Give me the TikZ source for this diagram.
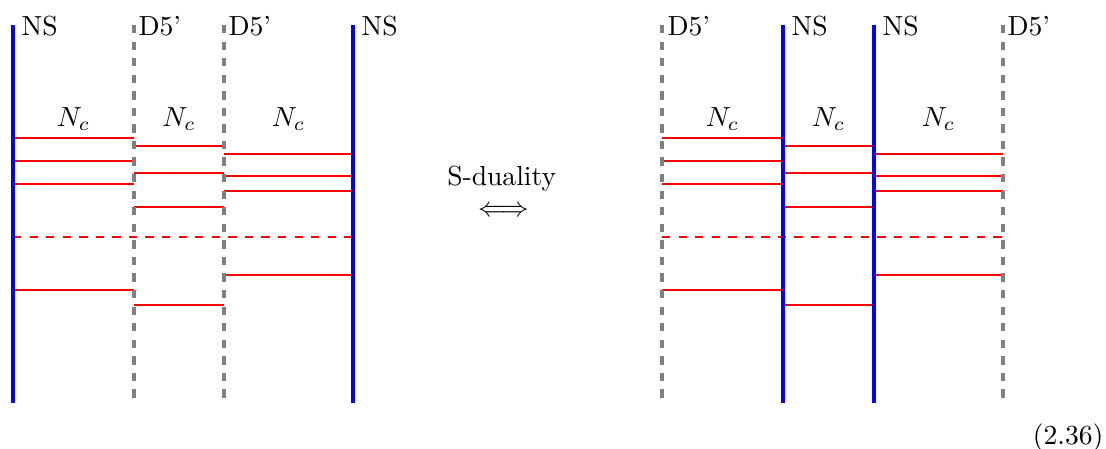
\documentclass[tikz,border=0pt]{standalone}
\begin{document}
\begin{tikzpicture}[x=0.3623pt,y=-0.3623pt,
  nsline/.style={blue,line width=1.45pt},
  dline/.style={gray,dashed,line width=1.2pt},
  cline/.style={red,line width=0.75pt},
  cdash/.style={red,dashed,line width=0.75pt},
  lab/.style={inner sep=0pt,anchor=base west},
  nclab/.style={inner sep=0pt,anchor=base}]
\useasboundingbox (0,0) rectangle (1106,448);
% ---------- left configuration ----------
\foreach \y in {138.3,161.3,183.7,290} \draw[cline] (13,\y) -- (134,\y);
\foreach \y in {146,172.7,206.7,304.7} \draw[cline] (134,\y) -- (224,\y);
\foreach \y in {153.7,176.3,191.3,274.7} \draw[cline] (224,\y) -- (353,\y);
\draw[cdash] (13,236.7) -- (353,236.7);
\draw[nsline] (13,25) coordinate (l1t) -- (13,403) coordinate (l1b);
\draw[dline] (134,25) coordinate (l2t) -- (134,403) coordinate (l2b);
\draw[dline] (224,25) coordinate (l3t) -- (224,403) coordinate (l3b);
\draw[nsline] (353,25) coordinate (l4t) -- (353,403) coordinate (l4b);
\node[lab] (ln1) at (21,35) {NS};
\node[lab] (ln2) at (138,35) {D5'};
\node[lab] (ln3) at (228,35) {D5'};
\node[lab] (ln4) at (361,35) {NS};
\node[nclab] (lc1) at (73.5,126) {$N_c$};
\node[nclab] (lc2) at (179,126) {$N_c$};
\node[nclab] (lc3) at (288.5,126) {$N_c$};
% ---------- middle ----------
\node[nclab] (sd) at (501.7,185) {S-duality};
\node[inner sep=0pt] (eq) at (503.5,211.7) {$\Longleftrightarrow$};
% ---------- right configuration ----------
\foreach \y in {138.3,161.3,183.7,290} \draw[cline] (662,\y) -- (783,\y);
\foreach \y in {146,172.7,206.7,304.7} \draw[cline] (783,\y) -- (874,\y);
\foreach \y in {153.7,176.3,191.3,274.7} \draw[cline] (874,\y) -- (1003,\y);
\draw[cdash] (662,236.7) -- (1003,236.7);
\draw[dline] (662,25) coordinate (r1t) -- (662,403) coordinate (r1b);
\draw[nsline] (783,25) coordinate (r2t) -- (783,403) coordinate (r2b);
\draw[nsline] (874,25) coordinate (r3t) -- (874,403) coordinate (r3b);
\draw[dline] (1003,25) coordinate (r4t) -- (1003,403) coordinate (r4b);
\node[lab] (rn1) at (667,35) {D5'};
\node[lab] (rn2) at (791,35) {NS};
\node[lab] (rn3) at (882,35) {NS};
\node[lab] (rn4) at (1007,35) {D5'};
\node[nclab] (rc1) at (722.5,126) {$N_c$};
\node[nclab] (rc2) at (828.5,126) {$N_c$};
\node[nclab] (rc3) at (938.5,126) {$N_c$};
% ---------- equation number ----------
\node[inner sep=0pt,anchor=base east] (eqn) at (1104,444) {(2.36)};
\end{tikzpicture}
\end{document}
